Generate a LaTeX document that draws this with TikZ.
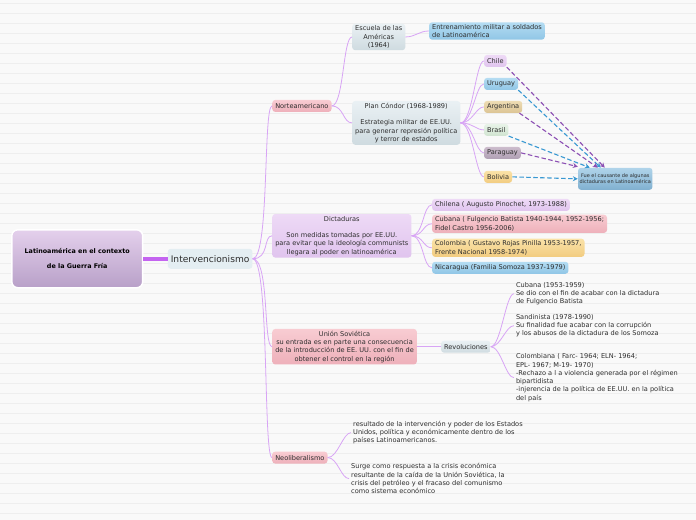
\documentclass[tikz,border=0pt]{standalone}
\usepackage{fontspec}
\setmainfont{DejaVu Sans}
\usetikzlibrary{positioning, arrows.meta, calc}
\definecolor{fondoGris}{RGB}{249, 249, 249}
\definecolor{rayaGris}{RGB}{238, 238, 238}
\definecolor{ramaLila}{RGB}{216, 164, 245}
\definecolor{troncoLila}{RGB}{196, 100, 240}
\definecolor{textoOscuro}{RGB}{45, 45, 45}
\definecolor{flechaLila}{RGB}{140, 80, 180}
\definecolor{flechaAzul}{RGB}{56, 152, 210}
\definecolor{raizArriba}{RGB}{228, 208, 236}
\definecolor{raizAbajo}{RGB}{184, 160, 200}
\definecolor{ejeFondo}{RGB}{228, 238, 242}
\definecolor{rosaArriba}{RGB}{248, 204, 210}
\definecolor{rosaAbajo}{RGB}{238, 176, 186}
\definecolor{lilaArriba}{RGB}{238, 218, 246}
\definecolor{lilaAbajo}{RGB}{224, 196, 238}
\definecolor{grisArriba}{RGB}{234, 241, 244}
\definecolor{grisAbajo}{RGB}{207, 219, 224}
\definecolor{azulArriba}{RGB}{180, 220, 242}
\definecolor{azulAbajo}{RGB}{144, 198, 230}
\definecolor{amarilloArriba}{RGB}{250, 226, 168}
\definecolor{amarilloAbajo}{RGB}{242, 204, 128}
\definecolor{tostadoArriba}{RGB}{238, 220, 180}
\definecolor{tostadoAbajo}{RGB}{220, 196, 148}
\definecolor{verdeArriba}{RGB}{232, 243, 232}
\definecolor{verdeAbajo}{RGB}{208, 228, 208}
\definecolor{malvaArriba}{RGB}{204, 188, 204}
\definecolor{malvaAbajo}{RGB}{176, 160, 180}
\definecolor{causaArriba}{RGB}{176, 212, 234}
\definecolor{causaAbajo}{RGB}{128, 176, 208}

\begin{document}
\begin{tikzpicture}[
        x=1pt, y=-1pt,
        baseNode/.style={rounded corners=3pt, text=textoOscuro, font=\fontsize{6.6}{8.3}\selectfont, inner xsep=3pt, inner ysep=2pt},
        raizNode/.style={draw=white, line width=1.5pt, rounded corners=6pt, top color=raizArriba, bottom color=raizAbajo, font=\bfseries\fontsize{6.4}{15}\selectfont, text=black, align=center, minimum width=131pt, minimum height=58pt},
        ejeNode/.style={baseNode, fill=ejeFondo, font=\fontsize{9.1}{10}\selectfont, minimum height=20pt, minimum width=82pt},
        rosaNode/.style={baseNode, top color=rosaArriba, bottom color=rosaAbajo, minimum height=12pt},
        lilaNode/.style={baseNode, top color=lilaArriba, bottom color=lilaAbajo, minimum height=12pt},
        grisNode/.style={baseNode, top color=grisArriba, bottom color=grisAbajo, align=center},
        azulNode/.style={baseNode, top color=azulArriba, bottom color=azulAbajo, minimum height=12pt},
        amarilloNode/.style={baseNode, top color=amarilloArriba, bottom color=amarilloAbajo, minimum height=12pt},
        paisNode/.style={baseNode, minimum height=12pt, anchor=west},
        notaNode/.style={text=textoOscuro, font=\fontsize{6.6}{8.3}\selectfont, align=left, anchor=west, inner sep=2pt},
        rama/.style={draw=ramaLila, line width=0.8pt},
        enlace/.style={dashed, dash pattern=on 4.5pt off 2.5pt, line width=1.1pt, -{Stealth[length=5pt, width=5pt]}}
    ]
        % fondo rayado
        \fill[fondoGris] (0,0) rectangle (696,520);
        \foreach \k in {0,...,51}
            \draw[rayaGris, line width=0.6pt] (0,3.5+10*\k) -- (696,3.5+10*\k);
        \useasboundingbox (0,0) rectangle (696,520);

        \node[raizNode] (raiz) at (77,259) {Latinoamérica en el contexto\\de la Guerra Fría};
        \node[ejeNode] (interv) at (210,259) {Intervencionismo};
        \draw[line width=3.5pt, troncoLila] (raiz.east) -- (interv.west);

        % ramas principales
        \node[rosaNode, anchor=west] (norte) at (272,106) {Norteamericano};
        \node[lilaNode, anchor=west, align=center] (dict) at (272,236) {Dictaduras\\[8.3pt]Son medidas tomadas por EE.UU.\\para evitar que la ideología communists\\llegara al poder en latinoamérica};
        \node[rosaNode, anchor=west, align=center] (urss) at (272,347) {Unión Soviética\\su entrada es en parte una consecuencia\\de la introducción de EE. UU. con el fin de\\obtener el control en la región};
        \node[rosaNode, anchor=west] (neo) at (272,458) {Neoliberalismo};
        \foreach \hijo in {norte, dict, urss, neo}
            \draw[rama] (interv.east) .. controls +(17,0) and +(-9,0) .. (\hijo.west);

        % Norteamericano
        \node[grisNode, anchor=west] (escuela) at (352,37) {Escuela de las\\Américas\\(1964)};
        \node[grisNode, anchor=west] (condor) at (352,123) {Plan Cóndor (1968-1989)\\[8.3pt]Estrategia militar de EE.UU.\\para generar represión política\\y terror de estados};
        \node[azulNode, anchor=west, align=left] (entrena) at (429,31) {Entrenamiento militar a soldados\\de Latinoamérica};
        \foreach \hijo in {escuela, condor}
            \draw[rama] (norte.east) .. controls +(12,0) and +(-9,0) .. (\hijo.west);
        \draw[rama] (escuela.east) .. controls +(10,0) and +(-10,0) .. (entrena.west);

        % paises del Plan Cóndor
        \node[paisNode, top color=lilaArriba, bottom color=lilaAbajo] (chile) at (484,61) {Chile};
        \node[paisNode, top color=azulArriba, bottom color=azulAbajo] (uruguay) at (484,84) {Uruguay};
        \node[paisNode, top color=tostadoArriba, bottom color=tostadoAbajo] (argentina) at (484,107) {Argentina};
        \node[paisNode, top color=verdeArriba, bottom color=verdeAbajo] (brasil) at (484,130) {Brasil};
        \node[paisNode, top color=malvaArriba, bottom color=malvaAbajo] (paraguay) at (484,153) {Paraguay};
        \node[paisNode, top color=amarilloArriba, bottom color=amarilloAbajo] (bolivia) at (484,177) {Bolivia};
        \foreach \pais in {chile, uruguay, argentina, brasil, paraguay, bolivia}
            \draw[rama] (condor.east) .. controls +(12,0) and +(-8,0) .. (\pais.west);

        \node[baseNode, anchor=west, align=center, top color=causaArriba, bottom color=causaAbajo, font=\fontsize{5}{6.4}\selectfont, minimum height=22pt, inner xsep=1.5pt] (causa) at (578,179) {Fue el causante de algunas\\dictaduras en Latinoamérica};
        \draw[enlace, flechaLila] (chile.south east) -- ([xshift=27pt]causa.north west);
        \draw[enlace, flechaAzul] (uruguay.south east) -- ([xshift=23pt]causa.north west);
        \draw[enlace, flechaLila] ([xshift=-3pt]argentina.south east) -- ([xshift=20pt]causa.north west);
        \draw[enlace, flechaAzul] (brasil.south east) -- ([xshift=12pt]causa.north west);
        \draw[enlace, flechaLila] (paraguay.east) -- ([yshift=1pt]causa.north west);
        \draw[enlace, flechaAzul] (bolivia.east) -- (causa.west);

        % Dictaduras
        \node[lilaNode, anchor=west] (chilena) at (432,205) {Chilena ( Augusto Pinochet, 1973-1988)};
        \node[rosaNode, anchor=west, align=left] (cubana) at (432,224) {Cubana ( Fulgencio Batista 1940-1944, 1952-1956;\\Fidel Castro 1956-2006)};
        \node[amarilloNode, anchor=west, align=left] (colombia) at (432,248) {Colombia ( Gustavo Rojas Pinilla 1953-1957,\\Frente Nacional 1958-1974)};
        \node[azulNode, anchor=west] (nicaragua) at (432,268) {Nicaragua (Familia Somoza 1937-1979)};
        \foreach \hijo in {chilena, cubana, colombia, nicaragua}
            \draw[rama] (dict.east) .. controls +(12,0) and +(-9,0) .. (\hijo.west);

        % Unión Soviética
        \node[grisNode, anchor=west, minimum height=12pt] (revol) at (441,347) {Revoluciones};
        \draw[rama] (urss.east) -- (revol.west);
        \node[notaNode] (revCuba) at (514,294) {Cubana (1953-1959)\\Se dio con el fin de acabar con la dictadura\\de Fulgencio Batista};
        \node[notaNode] (revNica) at (514,326) {Sandinista (1978-1990)\\Su finalidad fue acabar con la corrupción\\y los abusos de la dictadura de los Somoza};
        \node[notaNode] (revColo) at (514,378) {Colombiana ( Farc- 1964; ELN- 1964;\\EPL- 1967; M-19- 1970)\\-Rechazo a l a violencia generada por el régimen\\bipartidista\\-injerencia de la política de EE.UU. en la política\\del país};
        \foreach \hijo in {revCuba, revNica, revColo}
            \draw[rama] (revol.east) .. controls +(10,0) and +(-8,0) .. (\hijo.west);

        % Neoliberalismo
        \node[notaNode] (neoUno) at (351,433) {resultado de la intervención y poder de los Estados\\Unidos, política y económicamente dentro de los\\países Latinoamericanos.};
        \node[notaNode] (neoDos) at (349,479) {Surge como respuesta a la crisis económica\\resultante de la caída de la Unión Soviética, la\\crisis del petróleo y el fracaso del comunismo\\como sistema económico};
        \foreach \hijo in {neoUno, neoDos}
            \draw[rama] (neo.east) .. controls +(10,0) and +(-8,0) .. (\hijo.west);
    \end{tikzpicture}
\end{document}
